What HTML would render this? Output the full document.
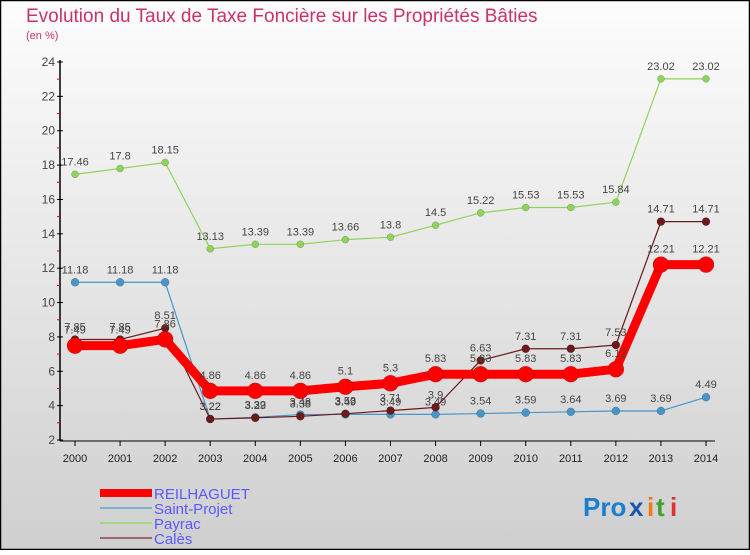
<!DOCTYPE html>
<html><head><meta charset="utf-8"><style>
html,body{margin:0;padding:0}
body{width:750px;height:550px;overflow:hidden;font-family:"Liberation Sans",sans-serif}
</style></head><body>
<svg id="chart" width="750" height="550" xmlns="http://www.w3.org/2000/svg" font-family="Liberation Sans, sans-serif">
<defs><linearGradient id="bg" x1="0" y1="0" x2="0" y2="1"><stop offset="0" stop-color="#fdfdfd"/><stop offset="1" stop-color="#cfcfcf"/></linearGradient></defs>
<rect x="0.5" y="0.5" width="749" height="549" fill="url(#bg)" stroke="#000" stroke-width="1.5"/>
<text x="26" y="22" font-size="19" fill="#c8336b">Evolution du Taux de Taxe Foncière sur les Propriétés Bâties</text>
<text x="26" y="39" font-size="11" fill="#c8336b">(en %)</text>
<g id="axes"></g><g id="series"></g><g id="legend"></g>
<g font-size="26" font-weight="bold">
<text x="583" y="516" fill="#1a7fd0">Pro</text><text x="629" y="516" fill="#1a56b0">x</text><text x="647" y="516" fill="#f07a10">i</text><text x="656" y="516" fill="#40a030">t</text><text x="670" y="516" fill="#e03030">i</text>
</g>
</svg>
<script>
const years=[2000,2001,2002,2003,2004,2005,2006,2007,2008,2009,2010,2011,2012,2013,2014];
const yTicks=[2,4,6,8,10,12,14,16,18,20,22,24];
const reilhaguet=[7.49,7.49,7.86,4.86,4.86,4.86,5.1,5.3,5.83,5.83,5.83,5.83,6.12,12.21,12.21];
const saintProjet=[11.18,11.18,11.18,3.22,3.32,3.48,3.49,3.49,3.49,3.54,3.59,3.64,3.69,3.69,4.49];
const payrac=[17.46,17.8,18.15,13.13,13.39,13.39,13.66,13.8,14.5,15.22,15.53,15.53,15.84,23.02,23.02];
const cales=[7.85,7.85,8.51,3.22,3.29,3.38,3.53,3.71,3.9,6.63,7.31,7.31,7.53,14.71,14.71];
const names=["REILHAGUET","Saint-Projet","Payrac","Calès"];
const NS="http://www.w3.org/2000/svg";
const x=i=>75+i*(706-75)/(years.length-1);
const y=v=>440-(v-2)*(440-62)/22;
function mk(tag,attrs,parent){const e=document.createElementNS(NS,tag);for(const k in attrs)e.setAttribute(k,attrs[k]);parent.appendChild(e);return e;}
const axes=document.getElementById('axes');
const ya=mk('line',{x1:60,y1:60,x2:60,y2:441,stroke:'#000','stroke-width':1.5},axes);


const xa=mk('line',{x1:60,y1:441,x2:715,y2:441,stroke:'#000','stroke-width':1},axes);


yTicks.forEach(v=>{
  mk('line',{x1:57,x2:63,y1:y(v),y2:y(v),stroke:'#000'},axes);
  if(v<24) mk('line',{x1:57,x2:60,y1:y(v+1),y2:y(v+1),stroke:'#e00'},axes);
  const t=mk('text',{x:55,y:y(v)+4,'font-size':12,'text-anchor':'end',fill:'#444'},axes);
  
  
  t.textContent=v;
});
years.forEach((yr,i)=>{
  mk('line',{x1:x(i),x2:x(i),y1:441,y2:446,stroke:'#000'},axes);
  const t=mk('text',{x:x(i),y:462,'font-size':11,'text-anchor':'middle',fill:'#222'},axes);
  
  
  t.textContent=yr;
});
const series=[
 {d:payrac,c:'#8fd45a',w:1.2,r:3.5,key:'payrac',dy:-9},
 {d:saintProjet,c:'#4a95c8',w:1.2,r:4,key:'saint-projet',dy:-9},
 {d:cales,c:'#6b1a1a',w:1.2,r:4,key:'cales',dy:-9},
 {d:reilhaguet,c:'#f00',w:9,r:8,key:'reilhaguet',dy:-12}
];
const sg=document.getElementById('series');
series.forEach(s=>{
  const g=mk('g',{},sg);
  
  
  const p=mk('polyline',{points:s.d.map((v,i)=>x(i)+','+y(v)).join(' '),fill:'none',stroke:s.c,'stroke-width':s.w,'stroke-linejoin':'round'},g);
  
  
  s.d.forEach((v,i)=>{
    const c=mk('circle',{cx:x(i),cy:y(v),r:s.r,fill:s.c,stroke:'rgba(0,0,0,0.3)','stroke-width':0.5},g);
    
    
    const t=mk('text',{x:x(i),y:y(v)+s.dy,'font-size':11,'text-anchor':'middle',fill:'#444'},g);
    
    
    t.textContent=v;
  });
});
const lg=document.getElementById('legend');
const lcols=['#f00','#80b0d0','#a0d880','#9a6a6a'];const lw=[8,2,2,2];
names.forEach((n,i)=>{
  const yy=493+i*15;
  const l=mk('line',{x1:100,x2:152,y1:yy,y2:yy,stroke:lcols[i],'stroke-width':lw[i]},lg);
  
  
  const t=mk('text',{x:154,y:yy+6,'font-size':15,fill:'#5a5aff'},lg);
  
  
  t.textContent=n;
});
</script>
</body></html>
